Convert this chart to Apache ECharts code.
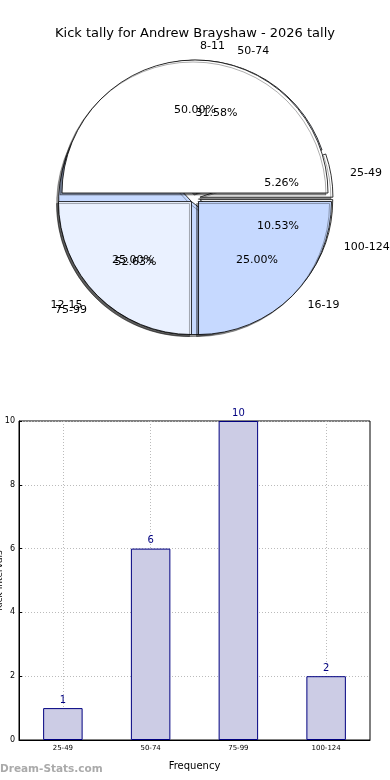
<!DOCTYPE html>
<html>
<head>
<meta charset="utf-8">
<script src="https://cdn.jsdelivr.net/npm/echarts@6/dist/echarts.min.js"></script>
<style>
html,body{margin:0;padding:0;background:#fff;}
#c{width:390px;height:780px;}
</style>
</head>
<body>
<div id="c"></div>
<script>
// Data
const titleText = 'Kick tally for Andrew Brayshaw - 2026 tally';
const ageGroups = ['8-11', '12-15', '16-19'];
const ageValues = [2, 1, 1];
const kickBins = ['25-49', '50-74', '75-99', '100-124'];
const kickCounts = [1, 6, 10, 2];
const yTicksMax = 10;
const xName = 'Frequency';
const yName = 'Kick Intervals';
const watermark = 'Dream-Stats.com';

const pieColors = ['#ffffff', '#eaf1ff', '#c6d9ff'];
const FONT = 'DejaVu Sans';
const CX = 195, CY = 198, R = 133;

function pieData(names, vals, withColor) {
  return names.map((n, i) => ({
    name: n, value: vals[i], selected: true,
    itemStyle: withColor ? { color: pieColors[i % 3] } : undefined
  }));
}
function total(a){return a.reduce((s,v)=>s+v,0);}

const chart = echarts.init(document.getElementById('c'), null, {renderer: 'canvas'});

function mainPie(names, vals, z) {
  return {
    type: 'pie', z: z, center: [CX, CY], radius: [0, R],
    startAngle: 0, clockwise: false, animation: false,
    selectedMode: 'multiple', selectedOffset: 5,
    avoidLabelOverlap: false, silent: true,
    emphasis: {disabled: true},
    labelLayout: {hideOverlap: false},
    itemStyle: {borderColor: '#000', borderWidth: 0.8,
      shadowColor: 'rgba(0,0,0,0.4)', shadowBlur: 0, shadowOffsetX: -2, shadowOffsetY: 2},
    label: {show: true, position: 'outside', formatter: '{b}', color: '#000',
      fontFamily: FONT, fontSize: 11},
    labelLine: {show: false, length: 14, length2: 0},
    data: pieData(names, vals, true)
  };
}
function pctPie(names, vals, z) {
  const t = total(vals);
  return {
    type: 'pie', z: z, center: [CX, CY], radius: [0, R * 1.2],
    startAngle: 0, clockwise: false, animation: false,
    selectedMode: 'multiple', selectedOffset: 5,
    avoidLabelOverlap: false, silent: true,
    emphasis: {disabled: true},
    labelLayout: {hideOverlap: false},
    itemStyle: {color: 'rgba(0,0,0,0)', borderWidth: 0},
    label: {show: true, position: 'inside', color: '#000', fontFamily: FONT, fontSize: 11,
      formatter: p => (p.value / t * 100).toFixed(2) + '%'},
    labelLine: {show: false},
    data: pieData(names, vals, false)
  };
}

const option = {
  backgroundColor: '#fff',
  animation: false,
  title: {text: titleText, left: 'center', top: 22,
    textStyle: {fontFamily: FONT, fontSize: 13, fontWeight: 'normal', color: '#000'}},
  graphic: [{type: 'text', left: 0, top: 764,
    style: {text: watermark, fontFamily: FONT, fontSize: 10.5, fontWeight: 'bold', fill: '#aaaaaa'}}],
  grid: {left: 19, right: 20, top: 421, bottom: 40, show: true, borderColor: '#000', borderWidth: 1,
    containLabel: false, outerBoundsMode: 'none'},
  xAxis: {type: 'category', data: kickBins, name: xName, nameLocation: 'middle', nameGap: 21,
    nameTextStyle: {fontFamily: FONT, fontSize: 10, color: '#000'},
    axisLine: {lineStyle: {color: '#000'}},
    axisTick: {show: false, alignWithLabel: true},
    axisLabel: {fontFamily: FONT, fontSize: 7, color: '#000', margin: 5},
    splitLine: {show: true, alignWithLabel: true, lineStyle: {type: [1, 2], color: '#bbb'}}},
  yAxis: {type: 'value', min: 0, max: yTicksMax, interval: 2, name: yName, nameLocation: 'middle',
    nameRotate: 90, nameGap: 15, nameMoveOverlap: false,
    nameTextStyle: {fontFamily: FONT, fontSize: 9, color: '#000'},
    axisLine: {show: true, lineStyle: {color: '#000'}},
    axisTick: {show: true, inside: true, length: 3, lineStyle: {color: '#000'}},
    axisLabel: {fontFamily: FONT, fontSize: 8, color: '#000', margin: 4},
    splitLine: {show: true, lineStyle: {type: [1, 2], color: '#bbb'}}},
  series: [
    mainPie(kickBins, kickCounts, 1),
    mainPie(ageGroups, ageValues, 2),
    pctPie(ageGroups, ageValues, 3),
    pctPie(kickBins, kickCounts, 3),
    {type: 'bar', data: kickCounts, barWidth: '45%', z: 2,
      itemStyle: {color: '#ccccE5', borderColor: '#000080', borderWidth: 1},
      label: {show: true, position: 'top', color: '#000080', fontFamily: FONT, fontSize: 10, distance: 3},
      clip: false}
  ]
};
chart.setOption(option);
</script>
</body>
</html>
